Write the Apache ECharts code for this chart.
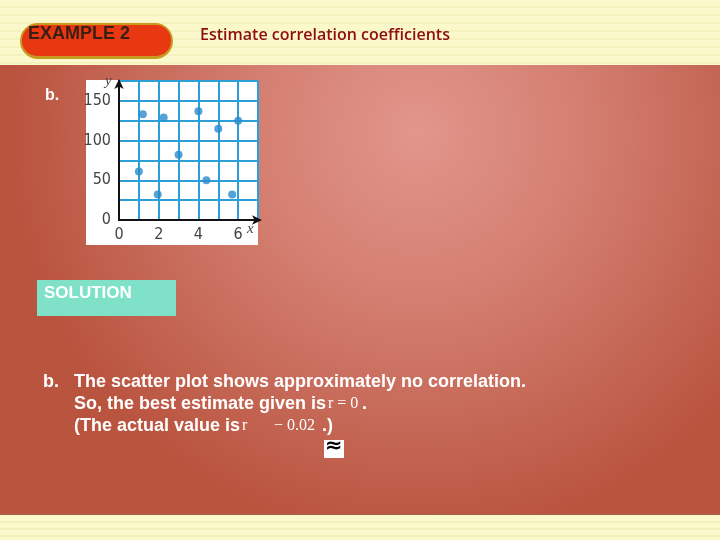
<!DOCTYPE html>
<html><head><meta charset="utf-8">
<script src="https://cdn.jsdelivr.net/npm/echarts@6/dist/echarts.min.js"></script>
<style>html,body{margin:0;padding:0;background:#c46a5c}#c{width:720px;height:540px}</style>
</head><body><div id="c"></div>
<script>
const xValues = [1.2, 2.25, 4.0, 5.0, 6.0, 3.0, 1.0, 1.95, 4.4, 5.7];
const yValues = [133, 129, 137, 115, 125, 82, 61, 32, 50, 32];
const xTickLabels = ['0', '2', '4', '6'];
const yTickLabels = ['0', '50', '100', '150'];

const pts = xValues.map((x, i) => [x, yValues[i]]);
const narrow = '"DejaVu Sans Condensed", "Liberation Sans Narrow", "Liberation Sans", Arial, sans-serif';

const stripes = [];
[6, 14, 22, 30, 38, 46, 54, 62].forEach(y => stripes.push({type:'rect', z:-9, shape:{x:0,y:y,width:720,height:2}, style:{fill:'#ece9b0', opacity:0.45}}));
[521, 528, 535].forEach(y => stripes.push({type:'rect', z:-9, shape:{x:0,y:y,width:720,height:2}, style:{fill:'#ece9b0', opacity:0.6}}));

const chart = echarts.init(document.getElementById('c'), null, {renderer:'canvas'});
chart.setOption({
  backgroundColor: '#fbf9cc',
  animation: false,
  grid: {left:119, top:81, width:139, height:139, containLabel:false},
  xAxis: {
    type:'value', min:0, max:7, interval:1,
    axisLine:{show:true, onZero:false, symbol:['none','arrow'], symbolSize:[7,10], symbolOffset:[0,4], lineStyle:{color:'#111', width:2}},
    axisTick:{show:false},
    splitLine:{show:true, lineStyle:{color:'#2b9fd8', width:2}},
    axisLabel:{color:'#444', fontSize:16, fontFamily:narrow, margin:7,
      formatter: v => (v % 2 === 0 && v <= 6) ? xTickLabels[v/2] : ''}
  },
  yAxis: {
    type:'value', min:0, max:175, interval:25,
    axisLine:{show:true, onZero:false, symbol:['none','arrow'], symbolSize:[7,10], symbolOffset:[0,2], lineStyle:{color:'#111', width:2}},
    axisTick:{show:false},
    splitLine:{show:true, lineStyle:{color:'#2b9fd8', width:2}},
    axisLabel:{color:'#444', fontSize:16, fontFamily:narrow, margin:8,
      formatter: v => (v % 50 === 0 && v <= 150) ? yTickLabels[v/50] : ''}
  },
  series: [{
    type:'scatter', data: pts, symbolSize:8,
    itemStyle:{color:'#2a8bcc'}, z:5
  }],
  graphic: [
    {type:'rect', z:-10, shape:{x:0,y:65,width:720,height:450},
      style:{fill:{type:'radial', x:0.58, y:0.15, r:0.9, colorStops:[
        {offset:0, color:'#e2968c'},{offset:0.45, color:'#d27c6e'},{offset:1, color:'#b9543f'}]}}},
    {type:'rect', z:-10, shape:{x:0,y:0,width:720,height:65}, style:{fill:'#fbf9cc'}},
    {type:'rect', z:-10, shape:{x:0,y:515,width:720,height:25}, style:{fill:'#fbf9cc'}},
    ...stripes,
    {type:'rect', z:-8, shape:{x:0,y:513,width:720,height:2}, style:{fill:'#a8604a', opacity:0.6}},
    {type:'rect', z:-5, shape:{x:86,y:80,width:172,height:165}, style:{fill:'#ffffff'}},
    {type:'rect', z:1, shape:{x:20,y:23,width:153,height:36,r:18}, style:{fill:'#c89a20'}},
    {type:'rect', z:1, shape:{x:22,y:25,width:149,height:31,r:15}, style:{fill:'#e83812'}},
    {type:'text', z:2, left:28, top:25, style:{text:'EXAMPLE 2', fill:'#3b1e14', font:'bold 18px "Liberation Sans", Arial, sans-serif'}},
    {type:'text', z:2, left:200, top:27, style:{text:'Estimate correlation coefficients', fill:'#8e0c0c', font:'600 16px "Open Sans", sans-serif'}},
    {type:'text', z:2, left:45, top:88, style:{text:'b.', fill:'#ffffff', font:'bold 16px "Liberation Sans", Arial, sans-serif'}},
    {type:'text', z:6, left:105, top:74, style:{text:'y', fill:'#444', font:'italic 15px "Liberation Serif", serif'}},
    {type:'text', z:6, left:247, top:222, style:{text:'x', fill:'#444', font:'italic 15px "Liberation Serif", serif'}},
    {type:'rect', z:1, shape:{x:37,y:280,width:139,height:36}, style:{fill:'#7fe2c8'}},
    {type:'text', z:2, left:44, top:285, style:{text:'SOLUTION', fill:'#ffffff', font:'bold 17px "Liberation Sans", Arial, sans-serif'}},
    {type:'text', z:2, left:43, top:373, style:{text:'b.', fill:'#ffffff', font:'bold 18px "Liberation Sans", Arial, sans-serif'}},
    {type:'text', z:2, left:74, top:373, style:{text:'The scatter plot shows approximately no correlation.', fill:'#ffffff', font:'bold 18px "Liberation Sans", Arial, sans-serif'}},
    {type:'text', z:2, left:74, top:395, style:{text:'So, the best estimate given is', fill:'#ffffff', font:'bold 18px "Liberation Sans", Arial, sans-serif'}},
    {type:'text', z:2, left:328, top:396, style:{text:'r = 0', fill:'#ffffff', font:'16px "Liberation Serif", serif'}},
    {type:'text', z:2, left:362, top:395, style:{text:'.', fill:'#ffffff', font:'bold 18px "Liberation Sans", Arial, sans-serif'}},
    {type:'text', z:2, left:74, top:417, style:{text:'(The actual value is', fill:'#ffffff', font:'bold 18px "Liberation Sans", Arial, sans-serif'}},
    {type:'text', z:2, left:242, top:418, style:{text:'r', fill:'#ffffff', font:'16px "Liberation Serif", serif'}},
    {type:'text', z:2, left:274, top:418, style:{text:'\u2212 0.02', fill:'#ffffff', font:'16px "Liberation Serif", serif'}},
    {type:'text', z:2, left:322, top:417, style:{text:'.)', fill:'#ffffff', font:'bold 18px "Liberation Sans", Arial, sans-serif'}},
    {type:'rect', z:1, shape:{x:324,y:440,width:20,height:18}, style:{fill:'#ffffff'}},
    {type:'text', z:2, left:325, top:436, style:{text:'\u2248', fill:'#000000', font:'bold 21px "DejaVu Sans", sans-serif'}}
  ]
});
</script></body></html>
